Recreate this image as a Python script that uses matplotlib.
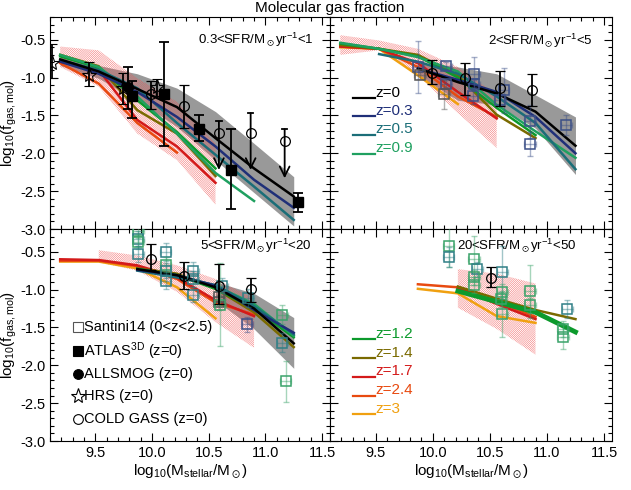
import matplotlib
matplotlib.use('Agg')
import matplotlib.pyplot as plt
import numpy as np
from matplotlib.ticker import MultipleLocator, FormatStrFormatter

plt.rcParams['font.family'] = ['Liberation Sans', 'DejaVu Sans']
plt.rcParams['mathtext.fontset'] = 'custom'
plt.rcParams['mathtext.rm'] = 'Liberation Sans'
plt.rcParams['mathtext.it'] = 'Liberation Sans:italic'
plt.rcParams['mathtext.fallback'] = 'stixsans'
plt.rcParams['axes.unicode_minus'] = False
plt.rcParams['hatch.linewidth'] = 0.3

N = None

# model mass grid (log10 Mstar)
MASS = [9.19, 9.53, 9.87, 10.22, 10.56, 10.90, 11.25]

Z_LABELS = ['z=0', 'z=0.3', 'z=0.5', 'z=0.9', 'z=1.2', 'z=1.4', 'z=1.7', 'z=2.4', 'z=3']
Z_COLORS = ['black', '#1f2f78', '#1b6e78', '#1fa060', '#0c9a2c', '#7a6a00',
            '#d41a1a', '#e84a10', '#f0a010']

PANEL_LABELS = [r'0.3<SFR/M$_\odot$yr$^{-1}$<1', r'2<SFR/M$_\odot$yr$^{-1}$<5',
                r'5<SFR/M$_\odot$yr$^{-1}$<20', r'20<SFR/M$_\odot$yr$^{-1}$<50']

# ---- panel 1: 0.3 < SFR < 1
P1_Z00 = [-0.76, -0.92, -1.15, -1.39, -1.80, -2.20, -2.57]
P1_Z03 = [-0.79, -0.95, -1.19, -1.52, -1.91, -2.35, -2.72]
P1_Z05 = [-0.77, -0.90, -1.14, -1.60, -2.02, -2.44, -2.88]
P1_Z09 = [-0.70, -0.86, -1.25, -1.74, -2.26, -2.63, N]
P1_Z12 = [-0.72, -0.87, -1.30, -1.72, -2.20, N, N]
P1_Z14 = [-0.70, -0.85, -1.43, -1.74, -2.30, N, N]
P1_Z17 = [-0.79, -0.90, -1.56, -1.91, -2.39, N, N]
P1_Z24 = [-0.81, -1.08, -1.60, -1.99, N, N, N]
P1_Z30 = [N, N, N, N, N, N, N]
P1_BAND_HI = [-0.73, -0.84, -0.95, -1.14, -1.45, -1.87, -2.31]
P1_BAND_LO = [-0.84, -1.01, -1.30, -1.65, -2.09, -2.52, -2.96]
P1_HATCH_HI = [-0.59, -0.64, -1.01, -1.32, -1.87, N, N]
P1_HATCH_LO = [-0.86, -1.12, -1.74, -2.09, -2.68, N, N]

# ---- panel 2: 2 < SFR < 5
P2_Z00 = [N, N, -0.88, -1.06, -1.21, -1.45, -1.90]
P2_Z03 = [N, N, -0.88, -1.03, -1.19, -1.52, -2.00]
P2_Z05 = [N, -0.69, -0.79, -0.95, -1.25, -1.60, -2.21]
P2_Z09 = [-0.54, -0.62, -0.73, -0.92, -1.36, -1.71, -2.06]
P2_Z12 = [-0.55, -0.62, -0.72, -1.00, -1.40, -1.76, N]
P2_Z14 = [-0.57, -0.62, -0.70, -0.97, -1.49, -1.80, N]
P2_Z17 = [-0.59, -0.62, -0.81, -1.19, -1.54, N, N]
P2_Z24 = [-0.59, -0.62, -0.86, -1.25, -1.52, N, N]
P2_Z30 = [-0.60, -0.62, -0.97, -1.35, N, N, N]
P2_BAND_HI = [N, N, -0.81, -0.86, -0.95, -1.23, -1.52]
P2_BAND_LO = [N, N, -0.97, -1.30, -1.36, -1.67, -2.28]
P2_HATCH_HI = [-0.44, -0.51, -0.62, -0.86, -1.23, N, N]
P2_HATCH_LO = [-0.70, -0.64, -0.97, -1.47, -1.93, N, N]

# ---- panel 3: 5 < SFR < 20
P3_Z00 = [N, N, -0.73, -0.81, -0.97, -1.25, -1.71]
P3_Z03 = [N, N, -0.74, -0.81, -0.95, -1.27, -1.57]
P3_Z05 = [N, N, -0.75, -0.84, -0.94, -1.22, -1.59]
P3_Z09 = [N, N, -0.73, -0.81, -0.95, -1.19, -1.61]
P3_Z12 = [N, N, -0.73, -0.81, -0.99, -1.25, -1.63]
P3_Z14 = [N, N, -0.72, -0.79, -0.99, -1.30, -1.76]
P3_Z17 = [-0.60, -0.61, -0.68, -0.84, -1.14, -1.35, N]
P3_Z24 = [-0.62, -0.62, -0.69, -0.86, -1.17, -1.33, N]
P3_Z30 = [-0.63, -0.63, -0.72, -0.97, -1.38, N, N]
P3_BAND_HI = [N, N, N, N, -0.90, -1.05, -1.37]
P3_BAND_LO = [N, N, N, N, -1.14, -1.52, -2.04]
P3_HATCH_HI = [N, -0.48, -0.55, -0.68, -0.86, -1.12, N]
P3_HATCH_LO = [N, -0.64, -0.75, -1.03, -1.43, -1.77, N]

# ---- panel 4: 20 < SFR < 50
P4_Z00 = [N] * 7
P4_Z03 = [N] * 7
P4_Z05 = [N] * 7
P4_Z09 = [N] * 7
P4_Z12 = [N, N, N, -1.02, -1.16, -1.30, -1.56]
P4_Z14 = [N, N, N, -0.96, -1.12, -1.27, -1.39]
P4_Z17 = [N, N, N, -0.98, -1.19, -1.39, N]
P4_Z24 = [N, N, -0.93, -0.97, -1.16, -1.36, N]
P4_Z30 = [N, N, -0.99, -1.05, -1.35, -1.44, N]
P4_HATCH_HI = [N, N, N, -0.73, -0.79, -0.92, N]
P4_HATCH_LO = [N, N, N, -1.24, -1.52, -1.86, N]

# ---- observations
HRS_X = [9.12, 9.44, 9.74, 10.04]
HRS_Y = [-0.81, -0.97, -1.14, -1.13]
HRS_LO = [-1.00, -1.11, -1.35, -1.25]
HRS_HI = [-0.56, -0.79, -0.94, -1.02]

ATLAS_X = [9.82, 10.11, 10.41, 10.70, 11.29]
ATLAS_Y = [-1.25, -1.22, -1.68, -2.22, -2.64]
ATLAS_LO = [-1.54, -1.91, -1.84, -2.74, -2.77]
ATLAS_HI = [-1.05, -0.53, -1.49, -1.68, -2.52]

ALLSMOG_X = [9.79]
ALLSMOG_Y = [-1.13]
ALLSMOG_LO = [-1.41]
ALLSMOG_HI = [-0.86]

P1_CG_X = [9.99, 10.28]
P1_CG_Y = [-1.22, -1.38]
P1_CG_LO = [-1.41, -1.67]
P1_CG_HI = [-1.05, -1.10]
P1_LIM_X = [10.59, 10.87, 11.17]
P1_LIM_Y = [-1.73, -1.73, -1.84]
P1_LIM_CAP = [-1.58, -1.47, -1.68]
P1_LIM_TIP = [-2.22, -2.22, -2.33]

P2_CG_X = [9.99, 10.28, 10.59, 10.87]
P2_CG_Y = [-0.94, -1.01, -1.14, -1.16]
P2_CG_LO = [-1.08, -1.23, -1.38, -1.38]
P2_CG_HI = [-0.77, -0.81, -0.91, -0.95]

P3_CG_X = [9.99, 10.28, 10.59, 10.87]
P3_CG_Y = [-0.59, -0.82, -0.95, -0.99]
P3_CG_LO = [-0.74, -0.99, -1.19, -1.16]
P3_CG_HI = [-0.40, -0.64, -0.66, -0.85]

P4_CG_X = [10.51]
P4_CG_Y = [-0.85]
P4_CG_LO = [-0.97]
P4_CG_HI = [-0.70]

SAN_COLORS = {'n': '#3c5088', 't': '#2f7f86', 'g': '#3aa36a', 'k': '#555555'}

P2_SAN_X = [9.875, 9.89, 10.12, 10.12, 10.10, 10.36, 10.36, 10.35, 10.62, 10.59, 10.85, 10.85, 11.17]
P2_SAN_Y = [-0.86, -0.97, -0.85, -1.08, -1.22, -0.95, -1.08, -1.25, -1.17, -1.30, -1.58, -1.88, -1.63]
P2_SAN_E = [0.34, 0.05, 0.05, 0.05, 0.19, 0.22, 0.05, 0.10, 0.30, 0.05, 0.22, 0.16, 0.13]
P2_SAN_C = ['n', 'k', 'n', 'n', 'k', 'n', 'n', 'n', 'n', 'n', 'n', 'n', 'n']

P3_SAN_X = [9.88, 9.88, 9.88, 9.88, 10.12, 10.12, 10.12, 10.12, 10.36, 10.36, 10.36,
            10.59, 10.59, 10.62, 10.60, 10.85, 10.84, 11.15, 11.15, 11.18]
P3_SAN_Y = [-0.22, -0.33, -0.37, -0.53, -0.50, -0.67, -0.75, -0.89, -0.76, -0.86, -1.07,
            -1.10, -1.17, -0.95, -1.20, -1.11, -1.46, -1.33, -1.70, -2.21]
P3_SAN_E = [0.10, 0.10, 0.10, 0.10, 0.12, 0.10, 0.10, 0.10, 0.12, 0.10, 0.10,
            0.10, 0.10, 0.10, 0.55, 0.12, 0.10, 0.12, 0.12, 0.27]
P3_SAN_C = ['g', 't', 'g', 't', 't', 'g', 't', 't', 't', 't', 't',
            'k', 'k', 't', 'g', 't', 'n', 'g', 't', 'g']

P4_SAN_X = [10.14, 10.14, 10.36, 10.39, 10.36, 10.36, 10.61, 10.61, 10.60, 10.61,
            10.85, 10.85, 11.18, 11.14, 11.14]
P4_SAN_Y = [-0.42, -0.57, -0.59, -0.73, -0.84, -0.94, -0.77, -1.03, -1.13, -1.32,
            -1.02, -1.21, -1.26, -1.52, -1.63]
P4_SAN_E = [0.28, 0.13, 0.30, 0.10, 0.10, 0.10, 0.35, 0.10, 0.10, 0.30,
            0.35, 0.10, 0.12, 0.10, 0.16]
P4_SAN_C = ['g', 't', 'g', 't', 'g', 'g', 't', 'g', 'g', 'g',
            'g', 'g', 't', 'g', 'g']

P1_LINES = [P1_Z00, P1_Z03, P1_Z05, P1_Z09, P1_Z12, P1_Z14, P1_Z17, P1_Z24, P1_Z30]
P2_LINES = [P2_Z00, P2_Z03, P2_Z05, P2_Z09, P2_Z12, P2_Z14, P2_Z17, P2_Z24, P2_Z30]
P3_LINES = [P3_Z00, P3_Z03, P3_Z05, P3_Z09, P3_Z12, P3_Z14, P3_Z17, P3_Z24, P3_Z30]
P4_LINES = [P4_Z00, P4_Z03, P4_Z05, P4_Z09, P4_Z12, P4_Z14, P4_Z17, P4_Z24, P4_Z30]


def arr(v):
    return np.array([np.nan if a is None else a for a in v], dtype=float)


def draw_models(ax, lines, band=None, hatch=None, thick=None):
    x = np.array(MASS)
    if band is not None:
        ax.fill_between(x, arr(band[0]), arr(band[1]), color='#999999', lw=0, zorder=1)
    if hatch is not None:
        ax.fill_between(x, arr(hatch[0]), arr(hatch[1]), facecolor='none',
                        edgecolor='#f05050', hatch='/' * 16, lw=0, zorder=2)
    for i in reversed(range(len(lines))):
        lw = 3.5 if thick == i else 1.8
        ax.plot(x, arr(lines[i]), color=Z_COLORS[i], lw=lw, zorder=3)


def draw_coldgass(ax, x, y, lo, hi):
    y = np.array(y)
    err = [y - np.array(lo), np.array(hi) - y]
    ax.errorbar(x, y, yerr=err, fmt='o', mfc='none', mec='black', ms=7, mew=0.9,
                ecolor='black', elinewidth=1.3, capsize=3.5, capthick=1.3, zorder=5)


def draw_santini(ax, x, y, e, c):
    for xi, yi, ei, ci in zip(x, y, e, c):
        col = SAN_COLORS[ci]
        ax.errorbar([xi], [yi], yerr=[ei], xerr=[0.05], fmt='none', ecolor=col,
                    alpha=0.45, elinewidth=1, capsize=2.5, zorder=4)
        ax.plot([xi], [yi], 's', mfc='none', mec=col, ms=6.5, mew=1.1, zorder=4)


fig = plt.figure(figsize=(6.31, 4.90), dpi=100)
W, H = 631.0, 490.0
x0, xm, x1 = 50, 330, 612
y0, ym, y1 = 17, 229, 441
ax_tl = fig.add_axes([x0 / W, 1 - ym / H, (xm - x0) / W, (ym - y0) / H])
ax_tr = fig.add_axes([xm / W, 1 - ym / H, (x1 - xm) / W, (ym - y0) / H])
ax_bl = fig.add_axes([x0 / W, 1 - y1 / H, (xm - x0) / W, (y1 - ym) / H])
ax_br = fig.add_axes([xm / W, 1 - y1 / H, (x1 - xm) / W, (y1 - ym) / H])
axes = [ax_tl, ax_tr, ax_bl, ax_br]

for ax in axes:
    ax.set_xlim(9.1, 11.57)
    ax.set_ylim(-3.0, -0.2)
    ax.xaxis.set_major_locator(MultipleLocator(0.5))
    ax.xaxis.set_minor_locator(MultipleLocator(0.1))
    ax.yaxis.set_major_locator(MultipleLocator(0.5))
    ax.yaxis.set_minor_locator(MultipleLocator(0.1))
    ax.xaxis.set_major_formatter(FormatStrFormatter('%.1f'))
    ax.yaxis.set_major_formatter(FormatStrFormatter('%.1f'))
    ax.tick_params(which='both', direction='in', top=True, right=True, labelsize=10.5)
    ax.tick_params(which='major', length=6, width=0.8)
    ax.tick_params(which='minor', length=3, width=0.8)
    for s in ax.spines.values():
        s.set_linewidth(0.8)

for ax in [ax_tl, ax_tr]:
    ax.tick_params(labelbottom=False)
for ax in [ax_tr, ax_br]:
    ax.tick_params(labelleft=False)
for ax in [ax_tl, ax_bl]:
    ax.set_ylabel(r'log$_{10}$(f$_{\rm gas,mol}$)', fontsize=11)
    ax.yaxis.set_label_coords(-0.11, 0.5)
for ax in [ax_bl, ax_br]:
    ax.set_xlabel(r'log$_{10}$(M$_{\rm stellar}$/M$_\odot$)', fontsize=11, labelpad=2)

# models
draw_models(ax_tl, P1_LINES, band=(P1_BAND_HI, P1_BAND_LO), hatch=(P1_HATCH_HI, P1_HATCH_LO))
draw_models(ax_tr, P2_LINES, band=(P2_BAND_HI, P2_BAND_LO), hatch=(P2_HATCH_HI, P2_HATCH_LO))
draw_models(ax_bl, P3_LINES, band=(P3_BAND_HI, P3_BAND_LO), hatch=(P3_HATCH_HI, P3_HATCH_LO))
draw_models(ax_br, P4_LINES, hatch=(P4_HATCH_HI, P4_HATCH_LO), thick=4)

# panel 1 observations
hy = np.array(HRS_Y)
ax_tl.errorbar(HRS_X, hy, yerr=[hy - np.array(HRS_LO), np.array(HRS_HI) - hy], fmt='*',
               mfc='none', mec='black', ms=11, mew=0.8, ecolor='black', elinewidth=1.3,
               capsize=3.5, capthick=1.3, zorder=5)
ay = np.array(ATLAS_Y)
ax_tl.errorbar(ATLAS_X, ay, yerr=[ay - np.array(ATLAS_LO), np.array(ATLAS_HI) - ay], fmt='s',
               color='black', ms=7, ecolor='black', elinewidth=1.3, capsize=3.5,
               capthick=1.3, zorder=5)
sy = np.array(ALLSMOG_Y)
ax_tl.errorbar(ALLSMOG_X, sy, yerr=[sy - np.array(ALLSMOG_LO), np.array(ALLSMOG_HI) - sy],
               fmt='o', color='black', ms=7, ecolor='black', elinewidth=1.3, capsize=3.5,
               capthick=1.3, zorder=5)
draw_coldgass(ax_tl, P1_CG_X, P1_CG_Y, P1_CG_LO, P1_CG_HI)
ax_tl.plot(P1_LIM_X, P1_LIM_Y, 'o', mfc='none', mec='black', ms=7, mew=0.9, zorder=5)
for xi, cap, tip in zip(P1_LIM_X, P1_LIM_CAP, P1_LIM_TIP):
    ax_tl.annotate('', xy=(xi, tip), xytext=(xi, cap),
                   arrowprops=dict(arrowstyle='->,head_length=0.7,head_width=0.35',
                                   color='black', lw=1.3, shrinkA=0, shrinkB=0), zorder=5)
    ax_tl.plot([xi - 0.025, xi + 0.025], [cap, cap], color='black', lw=1.3, zorder=5)

# other panels
draw_santini(ax_tr, P2_SAN_X, P2_SAN_Y, P2_SAN_E, P2_SAN_C)
draw_coldgass(ax_tr, P2_CG_X, P2_CG_Y, P2_CG_LO, P2_CG_HI)
draw_santini(ax_bl, P3_SAN_X, P3_SAN_Y, P3_SAN_E, P3_SAN_C)
draw_coldgass(ax_bl, P3_CG_X, P3_CG_Y, P3_CG_LO, P3_CG_HI)
draw_santini(ax_br, P4_SAN_X, P4_SAN_Y, P4_SAN_E, P4_SAN_C)
draw_coldgass(ax_br, P4_CG_X, P4_CG_Y, P4_CG_LO, P4_CG_HI)

# panel labels
label_pos = [(0.94, 0.89), (0.93, 0.887), (0.935, 0.92), (0.875, 0.92)]
for ax, lab, (lx, ly) in zip(axes, PANEL_LABELS, label_pos):
    ax.text(lx, ly, lab, transform=ax.transAxes, ha='right', va='center', fontsize=9.5)

# redshift legends
def z_legend(ax, idx, ys):
    for i, yy in zip(idx, ys):
        ax.plot([0.083, 0.16], [yy, yy], color=Z_COLORS[i], lw=1.6, transform=ax.transAxes)
        ax.text(0.162, yy - 0.008, Z_LABELS[i], color=Z_COLORS[i], fontsize=11,
                transform=ax.transAxes, ha='left', va='bottom')

z_legend(ax_tr, [0, 1, 2, 3], [0.618, 0.533, 0.445, 0.355])
z_legend(ax_br, [4, 5, 6, 7, 8], [0.481, 0.390, 0.303, 0.214, 0.127])

# observation legend
obs_entries = [('s', 'none', 6.5, 'Santini14 (0<z<2.5)'),
               ('s', 'black', 6.5, r'ATLAS$^{\rm 3D}$ (z=0)'),
               ('o', 'black', 7, 'ALLSMOG (z=0)'),
               ('*', 'none', 11, 'HRS (z=0)'),
               ('o', 'none', 7, 'COLD GASS (z=0)')]
obs_y = [0.537, 0.424, 0.316, 0.212, 0.104]
for (m, fc, ms, lab), yy in zip(obs_entries, obs_y):
    mec = '#555555' if lab.startswith('Santini') else 'black'
    ax_bl.plot([0.101], [yy], m, mfc=fc, mec=mec, ms=ms, mew=0.8, transform=ax_bl.transAxes)
    ax_bl.text(0.121, yy, lab, transform=ax_bl.transAxes, ha='left', va='center', fontsize=10.5)

fig.text(330 / W, 1 - 8 / H, 'Molecular gas fraction', ha='center', va='center', fontsize=11)

fig.savefig('out.png', dpi=100)
